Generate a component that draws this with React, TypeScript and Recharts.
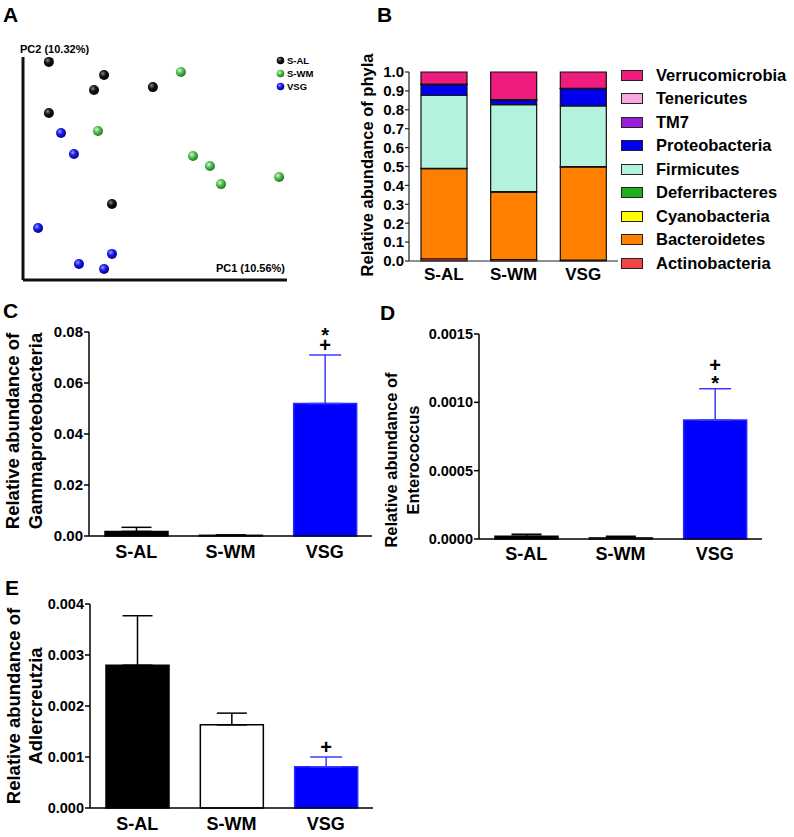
import React from 'react';
import {
  ScatterChart, Scatter, BarChart, Bar, XAxis, YAxis, ErrorBar, Cell, Legend, LabelList,
} from 'recharts';

const FONT = '"Liberation Sans", Arial, Helvetica, sans-serif';

const groups = ['S-AL', 'S-WM', 'VSG'];

// A: PCoA scores, both axes rescaled to 0-100
const pc1AL = [9.8, 30.7, 26.9, 49.2, 9.8, 33.7];
const pc2AL = [97.8, 91.9, 85.2, 86.5, 74.9, 34.1];
const pc1WM = [59.8, 28.4, 64.4, 70.8, 75.0, 97.0];
const pc2WM = [93.3, 66.8, 55.6, 51.1, 43.0, 46.2];
const pc1VSG = [14.4, 19.3, 5.7, 21.2, 33.7, 30.7];
const pc2VSG = [65.9, 56.5, 23.3, 7.2, 11.7, 4.9];

// B: phyla, stacked bottom to top
const phyla = [
  'Actinobacteria', 'Bacteroidetes', 'Cyanobacteria', 'Deferribacteres', 'Firmicutes',
  'Proteobacteria', 'TM7', 'Tenericutes', 'Verrucomicrobia',
];
const phylaSAL = [0.012, 0.477, 0.0, 0.001, 0.387, 0.056, 0.001, 0.002, 0.064];
const phylaSWM = [0.008, 0.356, 0.0, 0.003, 0.46, 0.023, 0.002, 0.002, 0.146];
const phylaVSG = [0.005, 0.493, 0.0, 0.001, 0.322, 0.091, 0.001, 0.001, 0.086];
const phylaTicks = [0, 0.1, 0.2, 0.3, 0.4, 0.5, 0.6, 0.7, 0.8, 0.9, 1.0];
const phylaColors = [
  '#f04545', '#ff8000', '#ffff00', '#1cb01c', '#b3f3de',
  '#0000ee', '#9a1ed8', '#f5a8e2', '#ee1c7c',
];

// C: Gammaproteobacteria
const gammaMean = [0.0018, 0.0003, 0.052];
const gammaSem = [0.0016, 0.0001, 0.019];
const gammaMarks = ['', '', '+*'];
const gammaTicks = [0, 0.02, 0.04, 0.06, 0.08];

// D: Enterococcus
const enteroMean = [0.00002, 0.00001, 0.00087];
const enteroSem = [0.000015, 0.00001, 0.00023];
const enteroMarks = ['', '', '*+'];
const enteroTicks = [0, 0.0005, 0.001, 0.0015];

// E: Adlercreutzia
const adlerMean = [0.0028, 0.00163, 0.00081];
const adlerSem = [0.00097, 0.00023, 0.00019];
const adlerMarks = ['', '', '+'];
const adlerTicks = [0, 0.001, 0.002, 0.003, 0.004];

const gradIds = ['sphAL', 'sphWM', 'sphVSG'];
const errColors = ['#000', '#000', '#3c3cff'];

type Row = { group: string; value: number; sem: number; mark: string; errBlack?: number[]; errBlue?: number[] };

const makeRows = (mean: number[], sem: number[], marks: string[]): Row[] =>
  groups.map((g, i) => ({
    group: g,
    value: mean[i],
    sem: sem[i],
    mark: marks[i],
    errBlack: errColors[i] === '#000' ? [0, sem[i]] : undefined,
    errBlue: errColors[i] !== '#000' ? [0, sem[i]] : undefined,
  }));

const toPts = (xs: number[], ys: number[]) => xs.map((x, i) => ({ x, y: ys[i] }));

const Txt = ({ left, top, size, children, right }: any) => (
  <div
    style={{
      position: 'absolute', left, right, top, fontSize: size, fontWeight: 700,
      lineHeight: 1, whiteSpace: 'nowrap', color: '#000',
    }}
  >
    {children}
  </div>
);

const RotLabel = ({ cx, cy, size, gap, lines }: any) => (
  <div
    style={{
      position: 'absolute', left: cx, top: cy, fontSize: size, fontWeight: 700,
      lineHeight: `${gap}px`, whiteSpace: 'nowrap', textAlign: 'center', color: '#000',
      transform: 'translate(-50%, -50%) rotate(-90deg)',
    }}
  >
    {lines.map((l: string) => <div key={l}>{l}</div>)}
  </div>
);

const sphere = (id: string) => (props: any) => (
  <circle cx={props.cx} cy={props.cy} r={5} fill={`url(#${id})`} />
);

const PcLegend = ({ payload }: any) => (
  <div style={{ fontSize: 9.5, fontWeight: 700, fontFamily: FONT, whiteSpace: 'nowrap', width: 50 }}>
    {(payload || []).map((p: any, i: number) => (
      <div key={p.value} style={{ display: 'flex', alignItems: 'center', height: 13 }}>
        <svg width={9} height={9} style={{ marginRight: 2, flexShrink: 0 }}>
          <circle cx={4.5} cy={4.5} r={3.8} fill={`url(#${gradIds[i]})`} />
        </svg>
        <span>{p.value}</span>
      </div>
    ))}
  </div>
);

const PhylaLegend = () => (
  <div style={{ fontSize: 16.5, fontWeight: 700, fontFamily: FONT, whiteSpace: 'nowrap' }}>
    {phyla.map((p, i) => ({ p, c: phylaColors[i] })).reverse().map(({ p, c }) => (
      <div key={p} style={{ display: 'flex', alignItems: 'center', height: 23.5 }}>
        <div style={{ width: 20, height: 9, background: c, border: '1px solid #222', marginRight: 13, flexShrink: 0 }} />
        <span>{p}</span>
      </div>
    ))}
  </div>
);

// significance symbols stacked upward from the top of the error bar
const markRenderer = (rows: Row[]) => (props: any) => {
  const vb = props.viewBox && props.viewBox.width !== undefined ? props.viewBox : props;
  const { x, y, width, height } = vb;
  const row = rows[props.index];
  if (!row || !row.mark) return null;
  const h = Math.abs(height);
  const top = y - (row.sem / row.value) * h;
  const cx = x + width / 2;
  return (
    <text textAnchor="middle" fontSize={20} fontWeight={700} fill="#000">
      {row.mark.split('').map((s, k) => {
        const c = top - 10 - k * 14;
        return (
          <tspan key={k} x={cx} y={c + (s === '*' ? 11.5 : 7)}>{s}</tspan>
        );
      })}
    </text>
  );
};

const axisStyle = { stroke: '#000', strokeWidth: 1.5 };

const GroupBars = ({ rows, ticks, fmt, width, height, margin, xh, yw, fills, strokes, tickFont, xMargin }: any) => (
  <BarChart width={width} height={height} data={rows} margin={margin}>
    <XAxis
      dataKey="group"
      tickLine={false}
      axisLine={axisStyle}
      tickSize={0}
      tickMargin={xMargin}
      height={xh}
      tick={{ fontSize: 18, fontWeight: 700, fill: '#000' }}
      interval={0}
    />
    <YAxis
      width={yw}
      domain={[ticks[0], ticks[ticks.length - 1]]}
      ticks={ticks}
      tickFormatter={fmt}
      axisLine={axisStyle}
      tickLine={axisStyle}
      tickSize={5}
      tickMargin={1}
      interval={0}
      tick={{ fontSize: tickFont, fontWeight: 700, fill: '#000' }}
    />
    <Bar dataKey="value" barSize={63} isAnimationActive={false}>
      {rows.map((r: Row, i: number) => (
        <Cell key={r.group} fill={fills[i]} stroke={strokes[i]} strokeWidth={1.5} />
      ))}
      <ErrorBar dataKey="errBlack" width={15} strokeWidth={1.5} stroke="#000" direction="y" />
      <ErrorBar dataKey="errBlue" width={16} strokeWidth={1.5} stroke="#3c3cff" direction="y" />
      <LabelList dataKey="mark" content={markRenderer(rows)} />
    </Bar>
  </BarChart>
);

export default function App() {
  const phylaRows = groups.map((g, gi) => {
    const src = [phylaSAL, phylaSWM, phylaVSG][gi];
    const row: any = { group: g };
    phyla.forEach((p, pi) => { row[p] = src[pi]; });
    return row;
  });
  const gammaRows = makeRows(gammaMean, gammaSem, gammaMarks);
  const enteroRows = makeRows(enteroMean, enteroSem, enteroMarks);
  const adlerRows = makeRows(adlerMean, adlerSem, adlerMarks);

  return (
    <div style={{ position: 'absolute', left: 0, top: 0, width: 794, height: 837, background: '#fff', fontFamily: FONT, overflow: 'hidden' }}>
      {/* A */}
      <div style={{ position: 'absolute', left: 0, top: 0 }}>
        <ScatterChart width={300} height={300} margin={{ top: 57, right: 13, bottom: 19, left: 22 }}>
          <defs>
            <radialGradient id="sphAL" cx="38%" cy="35%" r="65%">
              <stop offset="0%" stopColor="#8a8a8a" />
              <stop offset="45%" stopColor="#151515" />
              <stop offset="100%" stopColor="#000" />
            </radialGradient>
            <radialGradient id="sphWM" cx="38%" cy="35%" r="65%">
              <stop offset="0%" stopColor="#d4f5d4" />
              <stop offset="45%" stopColor="#55c255" />
              <stop offset="100%" stopColor="#237523" />
            </radialGradient>
            <radialGradient id="sphVSG" cx="38%" cy="35%" r="65%">
              <stop offset="0%" stopColor="#9a9aff" />
              <stop offset="45%" stopColor="#1c1cf0" />
              <stop offset="100%" stopColor="#00008a" />
            </radialGradient>
          </defs>
          <XAxis type="number" dataKey="x" domain={[0, 100]} height={1} tick={false} tickLine={false} axisLine={{ stroke: '#111', strokeWidth: 3 }} />
          <YAxis type="number" dataKey="y" domain={[0, 100]} width={1} tick={false} tickLine={false} axisLine={{ stroke: '#111', strokeWidth: 3 }} />
          <Legend
            layout="vertical"
            align="center"
            verticalAlign="middle"
            content={<PcLegend />}
            wrapperStyle={{ left: 276, top: 54, width: 60 }}
          />
          <Scatter name="S-AL" data={toPts(pc1AL, pc2AL)} fill="#111" shape={sphere('sphAL')} isAnimationActive={false} />
          <Scatter name="S-WM" data={toPts(pc1WM, pc2WM)} fill="#4cb84c" shape={sphere('sphWM')} isAnimationActive={false} />
          <Scatter name="VSG" data={toPts(pc1VSG, pc2VSG)} fill="#1a1aee" shape={sphere('sphVSG')} isAnimationActive={false} />
        </ScatterChart>
      </div>
      <Txt left={20} top={43.6} size={11}>PC2 (10.32%)</Txt>
      <Txt right={794 - 285} top={262.6} size={11}>PC1 (10.56%)</Txt>

      {/* B */}
      <div style={{ position: 'absolute', left: 340, top: 0 }}>
        <BarChart width={454} height={290} data={phylaRows} margin={{ top: 72, right: 176, bottom: 0, left: 0 }}>
          <XAxis
            dataKey="group"
            tickLine={false}
            tickSize={0}
            tickMargin={7}
            height={29}
            axisLine={{ stroke: '#222', strokeWidth: 1.2 }}
            tick={{ fontSize: 17, fontWeight: 700, fill: '#000' }}
          />
          <YAxis
            width={69}
            domain={[0, 1]}
            ticks={phylaTicks}
            interval={0}
            tickFormatter={(v: number) => v.toFixed(1)}
            axisLine={{ stroke: '#222', strokeWidth: 1.2 }}
            tickLine={{ stroke: '#222', strokeWidth: 1.2 }}
            tickSize={4}
            tickMargin={1}
            tick={{ fontSize: 15, fontWeight: 700, fill: '#000' }}
          />
          <Legend
            layout="vertical"
            align="center"
            verticalAlign="middle"
            content={<PhylaLegend />}
            wrapperStyle={{ left: 281, top: 63.25, width: 173 }}
          />
          {phyla.map((p, i) => (
            <Bar key={p} dataKey={p} stackId="phyla" fill={phylaColors[i]} stroke="#111" strokeWidth={1.2} barSize={46} isAnimationActive={false} />
          ))}
        </BarChart>
      </div>
      <RotLabel cx={367} cy={165} size={16.5} gap={20} lines={['Relative abundance of phyla']} />

      {/* C */}
      <div style={{ position: 'absolute', left: 0, top: 300 }}>
        <GroupBars
          rows={gammaRows}
          ticks={gammaTicks}
          fmt={(v: number) => v.toFixed(2)}
          width={390}
          height={275}
          margin={{ top: 32, right: 18, bottom: 0, left: 0 }}
          xh={39}
          yw={89}
          fills={['#000', '#111', '#0000ff']}
          strokes={['#000', '#222', '#2a2aff']}
          tickFont={15}
          xMargin={9}
        />
      </div>
      <RotLabel cx={24} cy={431} size={18.5} gap={22.5} lines={['Relative abundance of', 'Gammaproteobacteria']} />

      {/* D */}
      <div style={{ position: 'absolute', left: 390, top: 300 }}>
        <GroupBars
          rows={enteroRows}
          ticks={enteroTicks}
          fmt={(v: number) => v.toFixed(4)}
          width={394}
          height={275}
          margin={{ top: 34, right: 22, bottom: 0, left: 0 }}
          xh={36}
          yw={89}
          fills={['#000', '#222', '#0000ff']}
          strokes={['#000', '#333', '#2a2aff']}
          tickFont={14.5}
          xMargin={8}
        />
      </div>
      <RotLabel cx={402} cy={460} size={16.5} gap={22} lines={['Relative abundance of', 'Enterococcus']} />

      {/* E */}
      <div style={{ position: 'absolute', left: 0, top: 560 }}>
        <GroupBars
          rows={adlerRows}
          ticks={adlerTicks}
          fmt={(v: number) => v.toFixed(3)}
          width={390}
          height={277}
          margin={{ top: 44, right: 17, bottom: 0, left: 0 }}
          xh={29}
          yw={90}
          fills={['#000', '#fff', '#0000ff']}
          strokes={['#000', '#000', '#2a2aff']}
          tickFont={14.5}
          xMargin={9}
        />
      </div>
      <RotLabel cx={25} cy={706} size={18.5} gap={22} lines={['Relative abundance of', 'Adlercreutzia']} />

      <Txt left={3} top={4.3} size={21}>A</Txt>
      <Txt left={377} top={4.3} size={21}>B</Txt>
      <Txt left={3} top={300.3} size={21}>C</Txt>
      <Txt left={380} top={302.3} size={21}>D</Txt>
      <Txt left={5} top={577.3} size={21}>E</Txt>
    </div>
  );
}
